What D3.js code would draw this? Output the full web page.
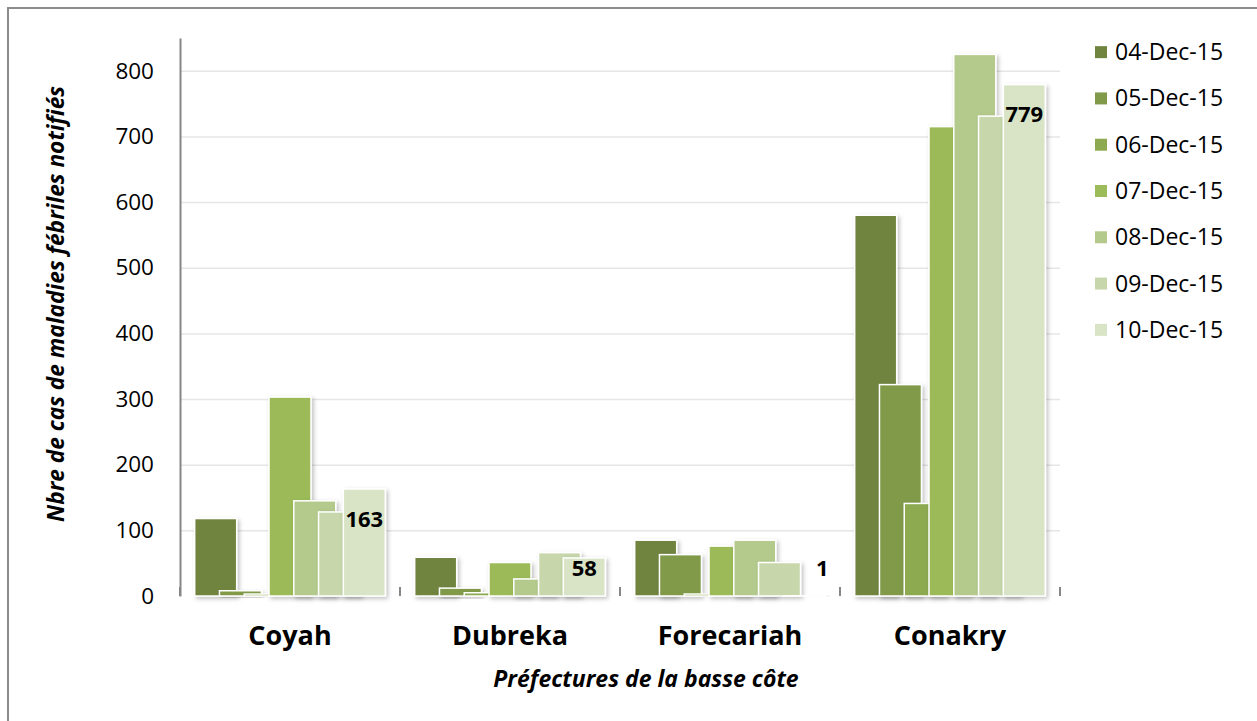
<!DOCTYPE html>
<html>
<head>
<meta charset="utf-8">
<script src="https://cdn.jsdelivr.net/npm/d3@7"></script>
<style>
  body { margin: 0; background: #fff; }
  svg { display: block; font-family: "Open Sans", sans-serif; }
</style>
</head>
<body>
<div id="chart"></div>
<script>
// data
const categories = ["Coyah", "Dubreka", "Forecariah", "Conakry"];
const seriesNames = ["04-Dec-15", "05-Dec-15", "06-Dec-15", "07-Dec-15", "08-Dec-15", "09-Dec-15", "10-Dec-15"];
const seriesValues = [
  [118, 59, 85, 580],
  [8, 12, 63, 322],
  [3, 5, 3, 141],
  [303, 51, 76, 715],
  [145, 26, 85, 825],
  [128, 66, 51, 731],
  [163, 58, 1, 779]
];
const seriesColors = ["#70843f", "#809a4a", "#8eaa51", "#9cbb59", "#b3ca8c", "#c7d7ab", "#d8e4c5"];
const yTicks = [0, 100, 200, 300, 400, 500, 600, 700, 800];
const labelledSeries = 6; // only last date carries data labels

const W = 1257, H = 721;
const plot = { left: 180, right: 1060, top: 38, bottom: 596 };

const svg = d3.select("#chart").append("svg")
  .attr("width", W).attr("height", H);

const defs = svg.append("defs");
const sh = defs.append("filter").attr("id", "shadow")
  .attr("x", "-20%").attr("y", "-20%").attr("width", "150%").attr("height", "150%");
sh.append("feDropShadow").attr("dx", 2).attr("dy", 2).attr("stdDeviation", 2)
  .attr("flood-color", "#000").attr("flood-opacity", 0.25);

// outer frame (runs off the bottom / right of the picture)
svg.append("rect")
  .attr("x", 8).attr("y", 8).attr("width", W + 20).attr("height", H + 20)
  .attr("fill", "none").attr("stroke", "#8c8c8c").attr("stroke-width", 2);

const x = d3.scaleBand().domain(categories).range([plot.left, plot.right]);
const y = d3.scaleLinear().domain([0, 850]).range([plot.bottom, plot.top]);

// excel-like overlap / gap width
const overlap = 0.41, gapWidth = 0.7, n = seriesNames.length;
const barW = x.bandwidth() / (n - (n - 1) * overlap + gapWidth);
const step = barW * (1 - overlap);
const inner = d3.scaleLinear().domain([0, n - 1])
  .range([barW * gapWidth / 2, barW * gapWidth / 2 + step * (n - 1)]);

// gridlines
svg.append("g")
  .attr("transform", `translate(${plot.left},0)`)
  .call(d3.axisLeft(y).tickValues(yTicks.filter(d => d > 0)).tickSize(-(plot.right - plot.left)).tickFormat(""))
  .call(g => g.select(".domain").remove())
  .call(g => g.selectAll("line").attr("stroke", "#e6e6e6").attr("stroke-width", 1.5));

// y axis
svg.append("g")
  .attr("transform", `translate(${plot.left},0)`)
  .call(d3.axisLeft(y).tickValues(yTicks).tickSize(0).tickPadding(26))
  .call(g => g.select(".domain").attr("stroke", "#868686").attr("stroke-width", 2))
  .call(g => g.selectAll("text").attr("font-size", 22.5).attr("fill", "#000")
    .attr("font-family", "Open Sans"));

// bars
const groups = svg.append("g").selectAll("g")
  .data(seriesValues)
  .join("g")
  .attr("fill", (d, i) => seriesColors[i]);

groups.selectAll("rect")
  .data((vals, si) => vals.map((v, ci) => ({ v, ci, si })))
  .join("rect")
  .attr("x", d => x(categories[d.ci]) + inner(d.si))
  .attr("y", d => y(d.v))
  .attr("width", barW)
  .attr("height", d => y(0) - y(d.v))
  .attr("stroke", "#fff")
  .attr("stroke-width", 1.5)
  .attr("filter", "url(#shadow)");

// x axis
const xAxis = svg.append("g")
  .attr("transform", `translate(0,${plot.bottom})`)
  .call(d3.axisBottom(x).tickSize(0))
  .call(g => g.select(".domain").attr("stroke", "#868686").attr("stroke-width", 2)
    .attr("filter", "url(#shadow)"))
  .call(g => g.selectAll("text").attr("y", 49).attr("dy", 0)
    .attr("font-size", 27).attr("font-weight", 700).attr("fill", "#000")
    .attr("font-family", "Open Sans"));

// category boundary ticks (pointing up)
xAxis.selectAll("line.sep")
  .data(categories.map(c => x(c)).concat([x.range()[1]]))
  .join("line")
  .attr("class", "sep")
  .attr("x1", d => d).attr("x2", d => d)
  .attr("y1", 0).attr("y2", -9)
  .attr("stroke", "#868686").attr("stroke-width", 2);

// data labels on last series (tiny bars get their label nudged right)
svg.append("g").selectAll("text")
  .data(seriesValues[labelledSeries].map((v, ci) => ({ v, ci })))
  .join("text")
  .attr("x", d => x(categories[d.ci]) + inner(labelledSeries) + barW / 2 + (y(0) - y(d.v) < 5 ? 18 : 0))
  .attr("y", d => Math.min(y(d.v) + 30, y(0) - 28))
  .attr("dy", "0.35em")
  .attr("text-anchor", "middle")
  .attr("font-size", 22)
  .attr("font-weight", 700)
  .attr("fill", "#000")
  .text(d => d.v);

// legend
const ly = d3.scaleBand().domain(seriesNames).range([29, 353]);
const legend = svg.append("g").selectAll("g")
  .data(seriesNames)
  .join("g")
  .attr("transform", d => `translate(1095,${ly(d) + ly.bandwidth() / 2})`);
legend.append("rect")
  .attr("x", 0).attr("y", -6).attr("width", 12).attr("height", 12)
  .attr("fill", (d, i) => seriesColors[i]);
legend.append("text")
  .attr("x", 20).attr("dy", "0.35em")
  .attr("font-size", 23)
  .attr("fill", "#000")
  .text(d => d);

// axis titles
svg.append("text")
  .attr("x", 646).attr("y", 687)
  .attr("text-anchor", "middle")
  .attr("font-size", 23).attr("font-weight", 700).attr("font-style", "italic")
  .text("Préfectures de la basse côte");

svg.append("text")
  .attr("transform", "translate(64,304) rotate(-90)")
  .attr("text-anchor", "middle")
  .attr("font-size", 22.7).attr("font-weight", 700).attr("font-style", "italic")
  .text("Nbre de cas de maladies fébriles notifiés");
</script>
</body>
</html>
